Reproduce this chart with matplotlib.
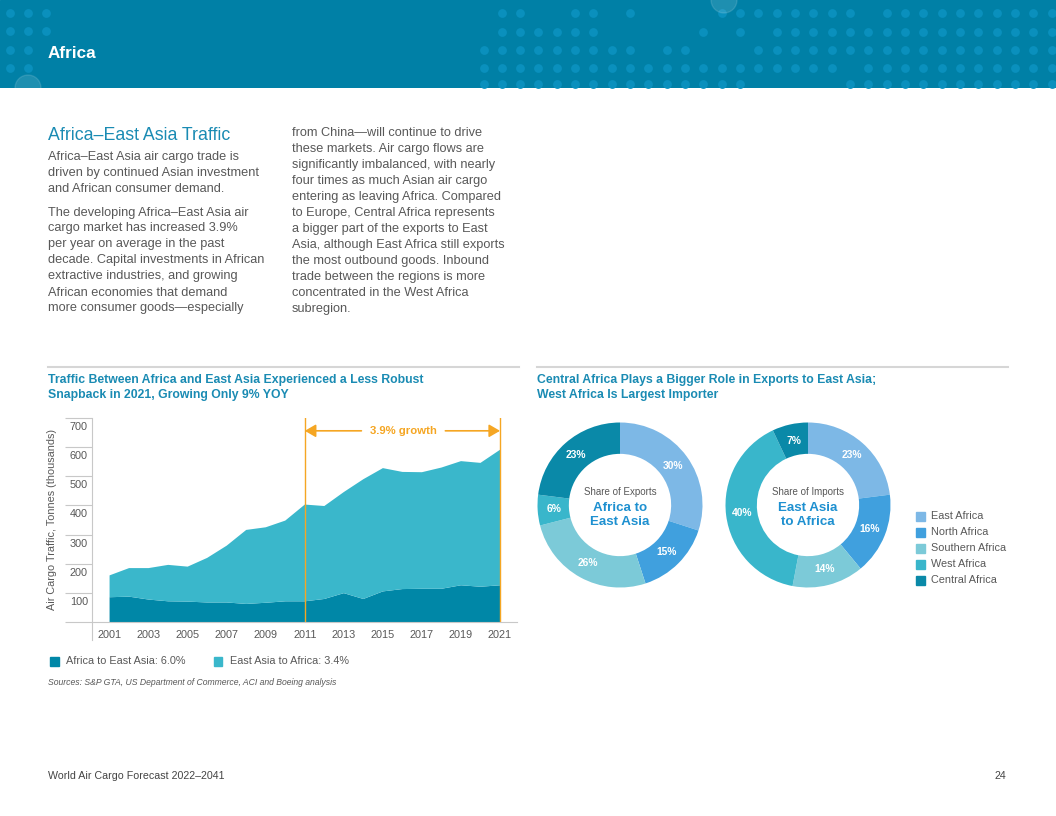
import matplotlib
matplotlib.use('Agg')
import matplotlib.pyplot as plt
from matplotlib.patches import Rectangle, Circle

plt.rcParams['font.family'] = ['Liberation Sans', 'DejaVu Sans']

# ---- data ----
years = list(range(2001, 2022))
africa_to_east_asia = [85, 87, 77, 71, 70, 67, 67, 62, 66, 71, 71,
                       79, 99, 79, 105, 113, 114, 114, 126, 121, 126]
east_asia_to_africa = [75, 98, 108, 125, 120, 153, 195, 254, 259, 277, 332,
                       319, 347, 411, 423, 402, 400, 416, 426, 425, 465]
series_labels = ['Africa to East Asia: 6.0%', 'East Asia to Africa: 3.4%']
y_ticks = [0, 100, 200, 300, 400, 500, 600, 700]
x_ticks = list(range(2001, 2022, 2))
growth_start, growth_end = 2011, 2021

regions = ['East Africa', 'North Africa', 'Southern Africa', 'West Africa', 'Central Africa']
exports_share = [30, 15, 26, 6, 23]
imports_share = [23, 16, 14, 40, 7]

# ---- colours ----
BAND = '#0080A6'
DOT = '#0A90BD'
TITLE = '#1A8BB3'
TEXT = '#585858'
GRID = '#c8c8c8'
ORANGE = '#F5A623'
DARK = '#0087A7'
LIGHT = '#3AB7CB'
CENTER_BLUE = '#1E90D0'
region_colors = ['#7DB8E6', '#40A0DE', '#7CCAD8', '#39B6CB', '#0A89A8']

W, H = 1056, 816


def fx(x):
    return x / W


def fy(y):
    return 1 - y / H


fig = plt.figure(figsize=(10.56, 8.16), dpi=100)

# ---- header band ----
head = fig.add_axes([0, fy(88), 1, 88 / H])
head.set_xlim(0, W)
head.set_ylim(88, 0)
head.axis('off')
head.add_patch(Rectangle((0, 0), W, 88, color=BAND, zorder=0))

row_y = [12.7, 31.5, 50, 68.3, 83.5]
row_masks = [".oo..oo.o....oooooooo.oooooooooo",
             ".oooooo.....o.o.oooooooooooooooo",
             "ooooooooo.oo...ooooooooooooooooo",
             "oooooooooooooooooooo.ooooooooooo",
             "ooooooooooooooo.....oooooooooooo"]
for yy, mask in zip(row_y, row_masks):
    xs = [483.5 + 18.33 * j for j, c in enumerate(mask) if c == 'o']
    head.scatter(xs, [yy] * len(xs), s=40, color=DOT, linewidths=0, zorder=1)
left_dots = [(10, 12.5), (28, 12.5), (46, 12.5), (10, 31), (28, 31), (46, 31),
             (10, 49.5), (28, 49.5), (10, 68), (28, 68)]
head.scatter([d[0] for d in left_dots], [d[1] for d in left_dots], s=40,
             color=DOT, linewidths=0, zorder=1)
head.add_patch(Circle((724, 0), 13, color='white', alpha=0.12, zorder=1))
head.add_patch(Circle((28, 88), 13, color='white', alpha=0.12, zorder=1))
head.text(48, 54, 'Africa', color='white', fontsize=12.3, fontweight='bold',
          va='center', ha='left')

# ---- body text ----
fig.text(fx(48), fy(135), 'Africa\u2013East Asia Traffic', fontsize=12.8,
         color=TITLE, va='center')
col1 = [(157, "Africa\u2013East Asia air cargo trade is"),
        (173, "driven by continued Asian investment"),
        (189, "and African consumer demand."),
        (212.5, "The developing Africa\u2013East Asia air"),
        (228.5, "cargo market has increased 3.9%"),
        (244.5, "per year on average in the past"),
        (260.5, "decade. Capital investments in African"),
        (276.5, "extractive industries, and growing"),
        (292.5, "African economies that demand"),
        (308.5, "more consumer goods\u2014especially")]
for yy, line in col1:
    fig.text(fx(48), fy(yy), line, fontsize=9.2, color=TEXT, va='center')
col2 = ["from China\u2014will continue to drive",
        "these markets. Air cargo flows are",
        "significantly imbalanced, with nearly",
        "four times as much Asian air cargo",
        "entering as leaving Africa. Compared",
        "to Europe, Central Africa represents",
        "a bigger part of the exports to East",
        "Asia, although East Africa still exports",
        "the most outbound goods. Inbound",
        "trade between the regions is more",
        "concentrated in the West Africa",
        "subregion."]
for i, line in enumerate(col2):
    fig.text(fx(292), fy(133 + 16 * i), line, fontsize=9.2, color=TEXT, va='center')

# separators
fig.add_artist(plt.Line2D([fx(48), fx(519)], [fy(367), fy(367)],
                          transform=fig.transFigure, color='#d6d6d6', lw=1.5))
fig.add_artist(plt.Line2D([fx(537), fx(1008)], [fy(367), fy(367)],
                          transform=fig.transFigure, color='#d6d6d6', lw=1.5))

# chart titles
fig.text(fx(48), fy(380.5), 'Traffic Between Africa and East Asia Experienced a Less Robust',
         fontsize=8.85, fontweight='bold', color=TITLE, va='center')
fig.text(fx(48), fy(395), 'Snapback in 2021, Growing Only 9% YOY',
         fontsize=8.85, fontweight='bold', color=TITLE, va='center')
fig.text(fx(537), fy(380.5), 'Central Africa Plays a Bigger Role in Exports to East Asia;',
         fontsize=8.85, fontweight='bold', color=TITLE, va='center')
fig.text(fx(537), fy(395), 'West Africa Is Largest Importer',
         fontsize=8.85, fontweight='bold', color=TITLE, va='center')

# ---- area chart ----
ax = fig.add_axes([fx(92), fy(622), (517 - 92) / W, (622 - 418) / H])
ax.stackplot(years, africa_to_east_asia, east_asia_to_africa,
             colors=[DARK, LIGHT], linewidth=0)
ax.set_xlim(2000.1, 2021.87)
ax.set_ylim(0, 700)
ax.set_yticks(y_ticks)
ax.set_yticklabels([])
ax.tick_params(axis='y', length=19.4, color=GRID, width=0.8)
ax.set_xticks(x_ticks)
ax.tick_params(axis='x', length=0, pad=5.5, labelsize=7.8, labelcolor=TEXT)
for s in ['top', 'right', 'left']:
    ax.spines[s].set_visible(False)
ax.spines['bottom'].set_color(GRID)
ax.spines['bottom'].set_linewidth(0.8)
ax.plot([0, 0], [-0.088, 1], transform=ax.transAxes, color=GRID, lw=0.8,
        clip_on=False)
for v in y_ticks[1:]:
    ax.annotate(str(v), xy=(0, v), xycoords=('axes fraction', 'data'),
                xytext=(-22, -9), textcoords='offset pixels', ha='left',
                va='center', fontsize=7.8, color=TEXT)
ax.set_facecolor('none')

ax.axvline(growth_start, color=ORANGE, lw=1)
ax.axvline(growth_end, color=ORANGE, lw=1)
arrow_y = 656
ax.text((growth_start + growth_end) / 2 + 0.05, arrow_y, '3.9% growth', ha='center',
        va='center', color=ORANGE, fontsize=8.2, fontweight='bold')
ap = dict(arrowstyle='-|>,head_length=0.55,head_width=0.32', color=ORANGE,
          lw=1.2, shrinkA=0, shrinkB=0, mutation_scale=12)
ax.annotate('', xy=(growth_start, arrow_y), xytext=(2013.9, arrow_y), arrowprops=ap)
ax.annotate('', xy=(growth_end, arrow_y), xytext=(2018.2, arrow_y), arrowprops=ap)

fig.text(fx(52), fy(519), 'Air Cargo Traffic, Tonnes (thousands)', rotation=90,
         ha='center', va='center', fontsize=7.8, color=TEXT)

# area legend
for x0, col, lab in [(50, DARK, series_labels[0]), (213.5, LIGHT, series_labels[1])]:
    fig.add_artist(Rectangle((fx(x0), fy(665.5)), 8.5 / W, 8.5 / H,
                             transform=fig.transFigure, color=col))
    fig.text(fx(x0 + 16), fy(661), lab, fontsize=7.8, color=TEXT, va='center')

fig.text(fx(48), fy(682.5),
         'Sources: S&P GTA, US Department of Commerce, ACI and Boeing analysis',
         fontsize=6.2, style='italic', color=TEXT, va='center')

# ---- donuts ----
donuts = [(620, exports_share, 'Share of Exports', ('Africa to', 'East Asia')),
          (808, imports_share, 'Share of Imports', ('East Asia', 'to Africa'))]
cy = 505
for cx, shares, sub, big in donuts:
    dax = fig.add_axes([fx(cx - 82.5), fy(cy + 82.5), 165 / W, 165 / H])
    dax.pie(shares, colors=region_colors, startangle=90, counterclock=False,
            wedgeprops=dict(width=0.38, linewidth=0),
            autopct=lambda p: f'{p:.0f}%', pctdistance=0.8,
            textprops=dict(color='white', fontsize=7.4, fontweight='bold'))
    dax.set_xlim(-1, 1)
    dax.set_ylim(-1, 1)
    dax.text(0, 0.16, sub, ha='center', va='center', fontsize=7, color=TEXT)
    dax.text(0, -0.04, big[0], ha='center', va='center', fontsize=9.6,
             fontweight='bold', color=CENTER_BLUE)
    dax.text(0, -0.205, big[1], ha='center', va='center', fontsize=9.6,
             fontweight='bold', color=CENTER_BLUE)

# donut legend
for i, (reg, col) in enumerate(zip(regions, region_colors)):
    yy = 516 + 16 * i
    fig.add_artist(Rectangle((fx(915.5), fy(yy + 4.5)), 9 / W, 9 / H,
                             transform=fig.transFigure, color=col))
    fig.text(fx(931), fy(yy), reg, fontsize=7.8, color=TEXT, va='center')

# ---- footer ----
fig.text(fx(48), fy(776), 'World Air Cargo Forecast 2022\u20132041', fontsize=7.7,
         color='#444444', va='center')
fig.text(fx(1006), fy(776), '24', fontsize=7.7, color='#444444', va='center',
         ha='right')

fig.savefig('out.png', dpi=100)
